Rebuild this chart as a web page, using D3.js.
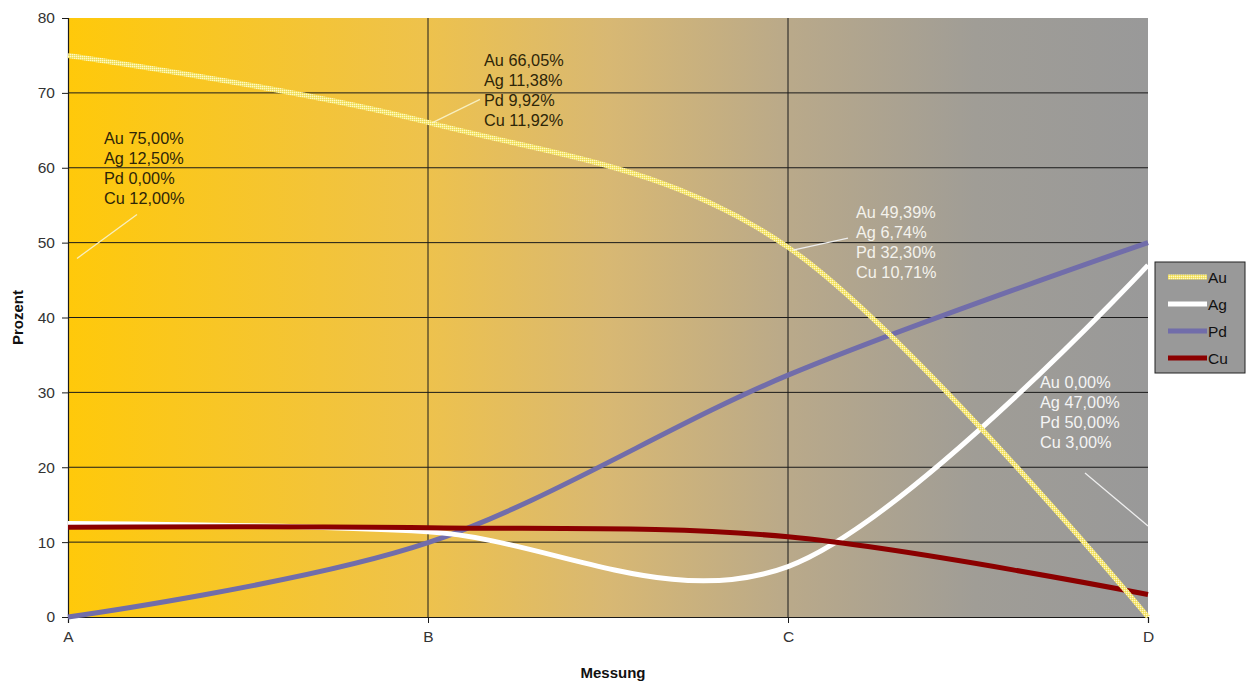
<!DOCTYPE html>
<html>
<head>
<meta charset="utf-8">
<script src="https://cdn.jsdelivr.net/npm/d3@7"></script>
<style>
  html, body { margin: 0; padding: 0; background: #fff; }
  svg { display: block; font-family: "Liberation Sans", Arial, sans-serif; }
</style>
</head>
<body>
<svg id="chart" width="1248" height="682"></svg>
<script>
// Measurement points and alloy composition (percent)
const categories = ["A", "B", "C", "D"];
const au = [75.00, 66.05, 49.39, 0.00];
const ag = [12.50, 11.38, 6.74, 47.00];
const pd = [0.00, 9.92, 32.30, 50.00];
const cu = [12.00, 11.92, 10.71, 3.00];
const yTicks = [0, 10, 20, 30, 40, 50, 60, 70, 80];
const seriesNames = ["Au", "Ag", "Pd", "Cu"];
const seriesValues = [au, ag, pd, cu];

const svg = d3.select("#chart");
const plot = { left: 68, right: 1148, top: 18, bottom: 617 };

const x = d3.scalePoint().domain(categories).range([plot.left, plot.right]);
const y = d3.scaleLinear().domain([0, 80]).range([plot.bottom, plot.top]);

const defs = svg.append("defs");

// Gold-to-grey background of the plot area
const grad = defs.append("linearGradient").attr("id", "bg").attr("x1", "0").attr("x2", "1").attr("y1", "0").attr("y2", "0");
[[0, "#ffc90a"], [0.33, "#eec24c"], [0.5, "#d8b873"], [0.67, "#b9a98a"], [0.84, "#a09d96"], [1, "#999999"]]
  .forEach(([o, c]) => grad.append("stop").attr("offset", o).attr("stop-color", c));

// Fine checker texture for the gold line
const pat = defs.append("pattern").attr("id", "goldHatch").attr("patternUnits", "userSpaceOnUse")
  .attr("width", 2).attr("height", 2);
pat.append("rect").attr("width", 2).attr("height", 2).attr("fill", "#f6e878");
pat.append("rect").attr("width", 1).attr("height", 1).attr("fill", "#fff8c8");
pat.append("rect").attr("x", 1).attr("y", 1).attr("width", 1).attr("height", 1).attr("fill", "#efdc58");

const colors = { Au: "url(#goldHatch)", Ag: "#ffffff", Pd: "#716daa", Cu: "#8b0000" };

svg.append("rect")
  .attr("x", plot.left).attr("y", plot.top)
  .attr("width", plot.right - plot.left).attr("height", plot.bottom - plot.top)
  .attr("fill", "url(#bg)");

// Horizontal grid
svg.append("g").selectAll("line")
  .data(yTicks.filter(t => t > 0 && t < 80))
  .join("line")
  .attr("x1", plot.left).attr("x2", plot.right)
  .attr("y1", d => y(d)).attr("y2", d => y(d))
  .attr("stroke", "#1a1a1a").attr("stroke-width", 1);

// Vertical grid at inner categories
svg.append("g").selectAll("line")
  .data(categories.slice(1, 3))
  .join("line")
  .attr("x1", d => x(d)).attr("x2", d => x(d))
  .attr("y1", plot.top).attr("y2", plot.bottom)
  .attr("stroke", "#1a1a1a").attr("stroke-width", 1);

// Axes
const yAxis = svg.append("g").attr("transform", `translate(${plot.left},0)`)
  .call(d3.axisLeft(y).tickValues(yTicks).tickSize(6).tickPadding(7));
const xAxis = svg.append("g").attr("transform", `translate(0,${plot.bottom})`)
  .call(d3.axisBottom(x).tickSize(6).tickPadding(8));
[yAxis, xAxis].forEach(a => {
  a.select(".domain").attr("stroke", "#1a1a1a").attr("stroke-width", 1.2);
  a.selectAll(".tick line").attr("stroke", "#1a1a1a");
  a.selectAll(".tick text").attr("fill", "#333").attr("font-size", 15.5)
    .attr("font-family", "'Liberation Sans', Arial, sans-serif");
});

// Axis titles
svg.append("text").attr("transform", `translate(23,${(plot.top + plot.bottom) / 2}) rotate(-90)`)
  .attr("text-anchor", "middle").attr("font-weight", "bold").attr("font-size", 15).attr("fill", "#111")
  .text("Prozent");
svg.append("text").attr("x", 613).attr("y", 678)
  .attr("text-anchor", "middle").attr("font-weight", "bold").attr("font-size", 15).attr("fill", "#111")
  .text("Messung");

// Smoothed series lines
const line = d3.line()
  .x((d, i) => x(categories[i]))
  .y(d => y(d))
  .curve(d3.curveCardinal.tension(0));

const drawOrder = ["Pd", "Ag", "Cu", "Au"];
drawOrder.forEach(name => {
  const vals = seriesValues[seriesNames.indexOf(name)];
  svg.append("path").datum(vals)
    .attr("d", line)
    .attr("fill", "none")
    .attr("stroke", colors[name])
    .attr("stroke-width", 5)
    .attr("stroke-linecap", "butt");
});

// Data labels: composition at each measurement point
const fmt = v => v.toFixed(2).replace(".", ",") + "%";
const labelLayout = [
  { dx: 36, dy: 89, fill: "#2e2608", lead: [[9, 203], [69, 159]] },
  { dx: 56, dy: -56, fill: "#2e2608", lead: [[5, 0], [52, -23]] },
  { dx: 68, dy: -29, fill: "#f4f2ec", lead: [[5, 3], [60, -9]] },
  { dx: -108, dy: -229, fill: "#f4f4f4", lead: [[-63, -144], [0, -91]] }
];
categories.forEach((c, i) => {
  const px = x(c), py = y(au[i]);
  const L = labelLayout[i];
  svg.append("line")
    .attr("x1", px + L.lead[0][0]).attr("y1", py + L.lead[0][1])
    .attr("x2", px + L.lead[1][0]).attr("y2", py + L.lead[1][1])
    .attr("stroke", i < 2 ? "#f7efc0" : "#eeeeee").attr("stroke-width", 1.3);
  const t = svg.append("text").attr("font-size", 16.3).attr("fill", L.fill);
  seriesNames.forEach((n, k) => {
    t.append("tspan")
      .attr("x", px + L.dx)
      .attr("y", py + L.dy + k * 20)
      .text(`${n} ${fmt(seriesValues[k][i])}`);
  });
});

// Legend
const lg = svg.append("g").attr("transform", "translate(1155,262)");
lg.append("rect").attr("width", 90).attr("height", 111)
  .attr("fill", "#999999").attr("stroke", "#222").attr("stroke-width", 1);
seriesNames.forEach((n, k) => {
  const ly = 15 + k * 27;
  lg.append("line").attr("x1", 13).attr("x2", 52).attr("y1", ly).attr("y2", ly)
    .attr("stroke", colors[n]).attr("stroke-width", 5);
  lg.append("text").attr("x", 53).attr("y", ly + 5.5).attr("font-size", 15.5).attr("fill", "#111").text(n);
});
</script>
</body>
</html>
